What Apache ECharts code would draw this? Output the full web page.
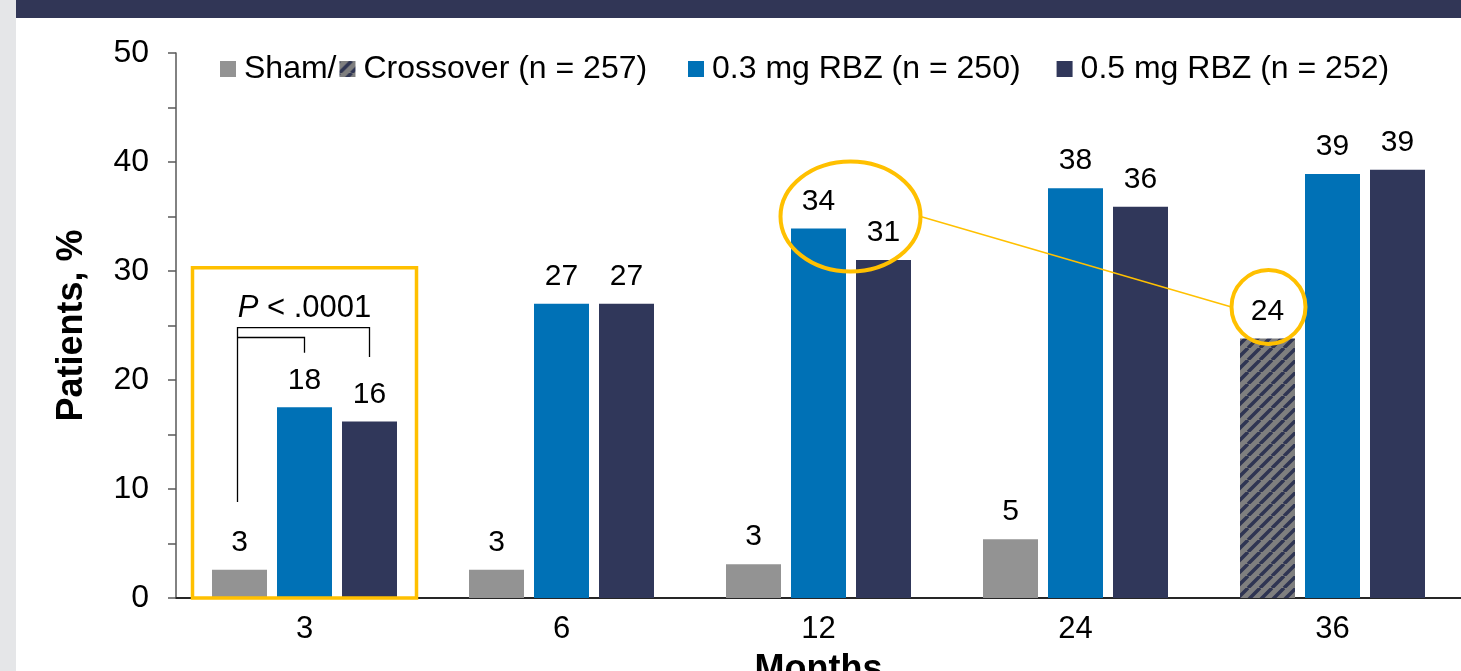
<!DOCTYPE html>
<html><head><meta charset="utf-8">
<script src="https://cdn.jsdelivr.net/npm/echarts@6/dist/echarts.min.js"></script>
<style>
html,body{margin:0;padding:0;background:#fff;overflow:hidden}
#wrap{position:relative;width:1461px;height:671px}
#side{position:absolute;left:0;top:0;width:16px;height:671px;background:#e5e6e8}
#topbar{position:absolute;left:16px;top:0;width:1445px;height:18px;background:#313656}
#chart{position:absolute;left:0;top:0;width:1461px;height:671px}
</style></head><body>
<div id="wrap"><div id="chart"></div><div id="side"></div><div id="topbar"></div></div>
<script>
// ---- data ----
const categories = ['3', '6', '12', '24', '36'];
const shamValues = [2.6, 2.6, 3.1, 5.4, '-'];
const crossoverValues = ['-', '-', '-', '-', 23.8];
const rbz03Values = [17.5, 27.0, 33.9, 37.6, 38.9];
const rbz05Values = [16.2, 27.0, 31.0, 35.9, 39.3];
const shamLabels = ['3', '3', '3', '5', ''];
const crossoverLabels = ['', '', '', '', '24'];
const rbz03Labels = ['18', '27', '34', '38', '39'];
const rbz05Labels = ['16', '27', '31', '36', '39'];
const seriesNames = ['Sham/', 'Crossover (n = 257)', '0.3 mg RBZ (n = 250)', '0.5 mg RBZ (n = 252)'];
const yMin = 0, yMax = 50, yTickStep = 5, yLabelStep = 10;
const pValueText = '.0001';

// ---- styling ----
const FONT = "'Liberation Sans', Arial, sans-serif";
const C_SHAM = '#939393', C_03 = '#0071b6', C_05 = '#30375a', C_GOLD = '#ffc000';
const BW = 55, GAP = 10;

function hatch() {
  const N = 12, c = document.createElement('canvas');
  c.width = N; c.height = N;
  const g = c.getContext('2d');
  g.fillStyle = '#7f7f7f'; g.fillRect(0, 0, N, N);
  g.strokeStyle = '#2f3553'; g.lineWidth = 3.5;
  g.beginPath();
  for (let k = -1; k <= 1; k++) { g.moveTo(k * N, N); g.lineTo(k * N + N, 0); }
  g.stroke();
  return { image: c, repeat: 'repeat' };
}

function lab(arr) {
  return { show: true, position: 'top', distance: 12, color: '#000', fontSize: 30, fontFamily: FONT,
    formatter: p => arr[p.dataIndex] };
}

const chart = echarts.init(document.getElementById('chart'), null, { renderer: 'canvas' });
const legendText = { fontSize: 32, color: '#000', fontFamily: FONT, padding: [0, 0, 0, 3] };
const option = {
  animation: false,
  textStyle: { fontFamily: FONT },
  grid: { left: 176, right: 0, top: 53, bottom: 73, containLabel: false, outerBoundsMode: 'none' },
  legend: [
    { left: 220, top: 53, padding: 0, itemWidth: 16, itemHeight: 16, itemGap: 3, icon: 'rect',
      data: [seriesNames[0], seriesNames[1]], textStyle: legendText },
    { left: 688, top: 53, padding: 0, itemWidth: 16, itemHeight: 16, itemGap: 36, icon: 'rect',
      data: [seriesNames[2], seriesNames[3]], textStyle: legendText }
  ],
  xAxis: {
    type: 'category', data: categories,
    axisLine: { lineStyle: { color: '#262626', width: 2 } },
    axisTick: { show: false },
    axisLabel: { color: '#000', fontSize: 31, margin: 16, fontFamily: FONT },
    name: 'Months', nameLocation: 'middle', nameGap: 54,
    nameTextStyle: { fontSize: 36, fontWeight: 'bold', color: '#000', fontFamily: FONT, verticalAlign: 'top' }
  },
  yAxis: {
    type: 'value', min: yMin, max: yMax, interval: yTickStep,
    axisLine: { show: true, lineStyle: { color: '#595959', width: 1.5 } },
    axisTick: { show: true, length: 8, lineStyle: { color: '#595959', width: 1.5 } },
    splitLine: { show: false },
    axisLabel: { color: '#000', fontSize: 32, margin: 27, fontFamily: FONT,
      formatter: v => (v % yLabelStep === 0 ? String(v) : '') },
    name: 'Patients, %', nameLocation: 'middle', nameRotate: 90, nameGap: 86,
    nameTextStyle: { fontSize: 36, fontWeight: 'bold', color: '#000', fontFamily: FONT }
  },
  series: [
    { name: seriesNames[0], type: 'bar', stack: 'sc', barWidth: BW, barGap: (GAP / BW * 100) + '%',
      data: shamValues, itemStyle: { color: C_SHAM }, label: lab(shamLabels) },
    { name: seriesNames[1], type: 'bar', stack: 'sc', barWidth: BW, barGap: (GAP / BW * 100) + '%',
      data: crossoverValues, itemStyle: { color: hatch() }, label: lab(crossoverLabels) },
    { name: seriesNames[2], type: 'bar', barWidth: BW, barGap: (GAP / BW * 100) + '%',
      data: rbz03Values, itemStyle: { color: C_03 }, label: lab(rbz03Labels) },
    { name: seriesNames[3], type: 'bar', barWidth: BW, barGap: (GAP / BW * 100) + '%',
      data: rbz05Values, itemStyle: { color: C_05 }, label: lab(rbz05Labels) }
  ]
};
chart.setOption(option);

// ---- annotations positioned through the axes ----
function px(ci, v, slot) {
  const p = chart.convertToPixel({ gridIndex: 0 }, [ci, v]);
  return [p[0] + slot * (BW + GAP), p[1]];
}
const y = v => chart.convertToPixel({ gridIndex: 0 }, [0, v])[1];

const boxC = px(0, 0, 0);
const boxTop = y(30.3), boxBot = y(0);
const xL = px(0, 0, -1)[0] - 2, xB = px(0, 0, 0)[0], xD = px(0, 0, 1)[0];
const ell = [px(2, 35.0, 0)[0] + 32, y(35.0)], ERX = 70, ERY = 55;
const circ = px(4, 26.7, -1), CR = 37;

chart.setOption({
  graphic: [
    { type: 'rect', z: 100, shape: { x: boxC[0] - 112, y: boxTop, width: 224, height: boxBot - boxTop },
      style: { fill: 'none', stroke: C_GOLD, lineWidth: 3.5 } },
    { type: 'polyline', z: 100, shape: { points: [[xL, y(8.8)], [xL, y(24.8)], [xD, y(24.8)], [xD, y(22.1)]] },
      style: { fill: 'none', stroke: '#000', lineWidth: 1.3 } },
    { type: 'polyline', z: 100, shape: { points: [[xL, y(23.9)], [xB, y(23.9)], [xB, y(22.5)]] },
      style: { fill: 'none', stroke: '#000', lineWidth: 1.3 } },
    { type: 'text', z: 100, x: xB, y: y(26.6),
      style: { text: '{i|P} < ' + pValueText, fontSize: 31, fontFamily: FONT, fill: '#000',
        align: 'center', verticalAlign: 'middle',
        rich: { i: { fontStyle: 'italic', fontSize: 31, fontFamily: FONT } } } },
    { type: 'ellipse', z: 100, shape: { cx: ell[0], cy: ell[1], rx: ERX, ry: ERY },
      style: { fill: 'none', stroke: C_GOLD, lineWidth: 4 } },
    { type: 'circle', z: 100, shape: { cx: circ[0] + 1, cy: circ[1], r: CR },
      style: { fill: 'none', stroke: C_GOLD, lineWidth: 4 } },
    { type: 'line', z: 100, shape: { x1: ell[0] + ERX, y1: ell[1], x2: circ[0] + 1 - CR, y2: circ[1] },
      style: { stroke: C_GOLD, lineWidth: 1.5 } }
  ]
});
</script>
</body></html>
